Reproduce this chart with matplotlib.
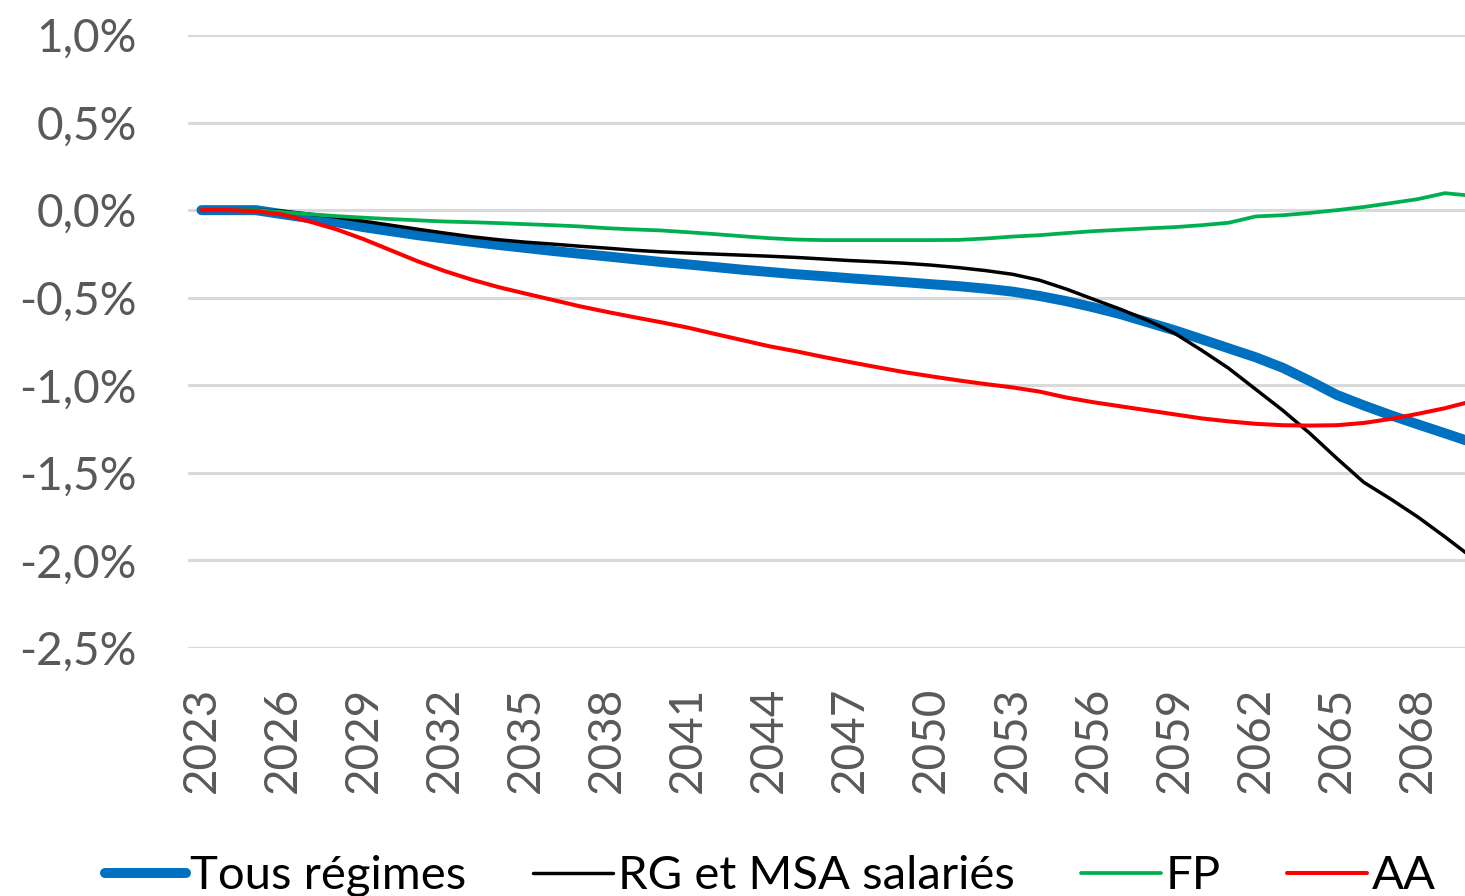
import matplotlib
matplotlib.use("Agg")
import matplotlib.pyplot as plt

# Années de projection
years = list(range(2023, 2071))

# Écart (en %) par rapport au scénario de référence
tous_regimes = [0.0, 0.0, 0.0, -0.023, -0.046, -0.069, -0.097, -0.12, -0.143, -0.162,
                -0.181, -0.199, -0.216, -0.233, -0.249, -0.264, -0.28, -0.296, -0.31, -0.325,
                -0.34, -0.353, -0.366, -0.377, -0.389, -0.4, -0.411, -0.423, -0.434, -0.448,
                -0.465, -0.49, -0.52, -0.555, -0.594, -0.64, -0.686, -0.737, -0.789, -0.84,
                -0.9, -0.975, -1.055, -1.115, -1.171, -1.223, -1.274, -1.326]
rg_msa = [0.0, 0.0, 0.0, -0.006, -0.023, -0.04, -0.063, -0.086, -0.109, -0.131,
          -0.152, -0.169, -0.183, -0.194, -0.206, -0.217, -0.229, -0.238, -0.245, -0.251,
          -0.257, -0.263, -0.27, -0.279, -0.288, -0.295, -0.303, -0.314, -0.328, -0.345,
          -0.366, -0.4, -0.451, -0.509, -0.566, -0.629, -0.703, -0.8, -0.903, -1.023,
          -1.143, -1.274, -1.417, -1.554, -1.65, -1.752, -1.865, -1.983]
fp = [0.0, 0.0, 0.0, -0.011, -0.023, -0.034, -0.043, -0.051, -0.058, -0.065,
      -0.069, -0.074, -0.08, -0.086, -0.093, -0.103, -0.11, -0.116, -0.126, -0.137,
      -0.149, -0.16, -0.168, -0.171, -0.171, -0.171, -0.171, -0.171, -0.17, -0.162,
      -0.151, -0.143, -0.131, -0.12, -0.112, -0.104, -0.097, -0.086, -0.072, -0.036,
      -0.029, -0.016, 0.0, 0.018, 0.04, 0.063, 0.097, 0.082]
aa = [0.0, 0.0, -0.006, -0.025, -0.065, -0.11, -0.166, -0.229, -0.292, -0.348,
      -0.397, -0.44, -0.477, -0.513, -0.549, -0.581, -0.611, -0.64, -0.671, -0.707,
      -0.742, -0.777, -0.806, -0.838, -0.868, -0.897, -0.925, -0.949, -0.972, -0.993,
      -1.012, -1.036, -1.07, -1.097, -1.12, -1.143, -1.166, -1.189, -1.206, -1.22,
      -1.228, -1.23, -1.228, -1.215, -1.192, -1.163, -1.131, -1.091]

series_labels = ["Tous régimes", "RG et MSA salariés", "FP", "AA"]
y_ticks = [1.0, 0.5, 0.0, -0.5, -1.0, -1.5, -2.0, -2.5]
x_ticks = list(range(2023, 2069, 3))

plt.rcParams['font.family'] = ['Lato', 'DejaVu Sans']

fig = plt.figure(figsize=(14.65, 8.96), dpi=100)
ax = fig.add_axes([188 / 1465, 248 / 896, 1277 / 1465, 613 / 896])

ax.plot(years, tous_regimes, color='#0070C0', lw=7.2, solid_capstyle='round', label=series_labels[0])
ax.plot(years, rg_msa, color='black', lw=2.5, solid_capstyle='round', label=series_labels[1])
ax.plot(years, fp, color='#00B050', lw=2.7, solid_capstyle='round', label=series_labels[2])
ax.plot(years, aa, color='#FF0000', lw=2.9, solid_capstyle='round', label=series_labels[3])

ax.set_xlim(2022.5, 2022.5 + 1277 / 27.03)
ax.set_ylim(-2.5, 1.0)
ax.set_yticks(y_ticks)
ax.set_yticklabels([f"{v:.1f}%".replace('.', ',') for v in y_ticks])
ax.set_xticks(x_ticks)
ax.set_xticklabels([str(y) for y in x_ticks], rotation=90)

ax.grid(axis='y', color='#D9D9D9', lw=2.2)
ax.set_axisbelow(True)
for s in ax.spines.values():
    s.set_visible(False)
ax.tick_params(axis='both', length=0, labelsize=33, labelcolor='#595959')
ax.tick_params(axis='y', pad=37)
ax.tick_params(axis='x', pad=28)

fig.legend(loc='center', bbox_to_anchor=(0.526, 0.022), ncol=4, frameon=False,
           fontsize=34, handlelength=1.7, handletextpad=0.1, columnspacing=1.4)

fig.savefig("out.png", dpi=100)
